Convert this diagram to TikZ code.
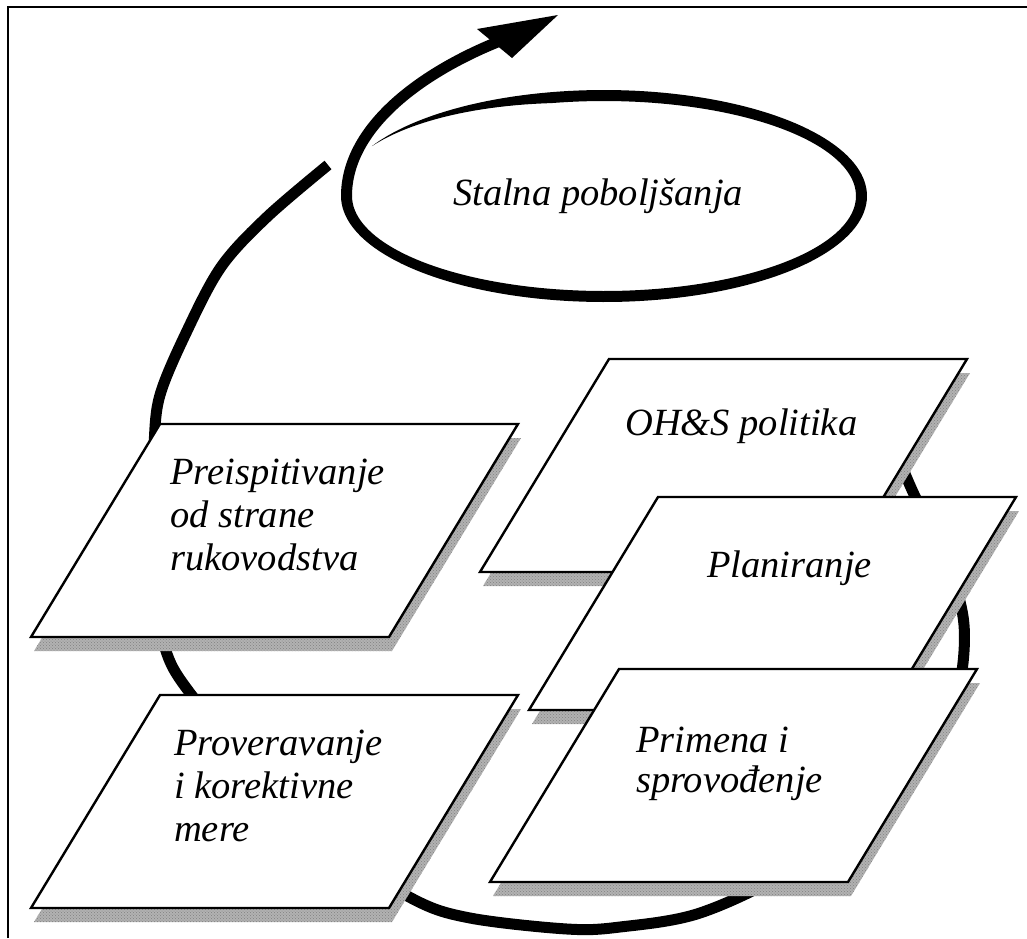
\documentclass[tikz,border=0pt]{standalone}
\usepackage{fontspec}
\setmainfont{Liberation Serif}
\usetikzlibrary{patterns}
\begin{document}
\begin{tikzpicture}[x=1pt,y=-1pt,
  frameline/.style={line width=1.6pt},
  loopline/.style={line width=11pt, line cap=butt},
  slabline/.style={line width=2.4pt, line join=miter, fill=white},
  slabshade/.style={fill=black!30},
  label/.style={font=\fontsize{38.5}{43}\selectfont\itshape, inner sep=0pt, align=left},
  slab/.pic={
    \fill[slabshade] (3,14) -- ++(358,0) -- ++(-129,213) -- ++(-358,0) -- cycle;
    \fill[pattern=crosshatch dots, pattern color=black!50] (3,14) -- ++(358,0) -- ++(-129,213) -- ++(-358,0) -- cycle;
    \draw[slabline] (0,0) -- ++(358,0) -- ++(-129,213) -- ++(-358,0) -- cycle;
  }]
\useasboundingbox (0,0) rectangle (1027,938);

% frame
\draw[frameline] (8,938) -- (8,7) -- (1027,7);

% improvement spiral: tapered elliptical loop turning into the upward arrow
\fill plot[variable=\t, domain=152:-180, samples=160]
  ({604+263*cos(\t)},{196-106*sin(\t)})
  -- plot[variable=\t, domain=-180:152, samples=160]
  ({604+(263-11*min(1,(152-\t)/50))*cos(\t)},{196-(106-11*min(1,(152-\t)/50))*sin(\t)})
  -- cycle;
\draw[line width=11pt] (346.5,196) .. controls (346.5,128) and (420,72) .. (505,39);
\fill (558,15) -- (477,29) -- (512,58) -- cycle;

% the cycle running behind the slabs
\draw[loopline] plot[smooth, tension=0.55] coordinates {
  (885,425) (912,490) (948,565) (964,625) (958,690) (930,745) (880,800)
  (790,870) (700,913) (620,927) (567,929) (470,918) (413,899) (330,845)
  (250,765) (190,693) (167,654) (157,600) (152,520) (154,445) (160,395)
  (186,333) (221,267) (267,217) (328,165)};

% slabs
\pic at (609,359) {slab};
\pic at (658,497) {slab};
\pic at (619,669) {slab};
\pic at (160,424) {slab};
\pic at (160,695) {slab};

% labels
\node[label, anchor=base] (title) at (598,205) {Stalna poboljšanja};
\node[label, anchor=base west] (policy) at (625,435) {OH\&S politika};
\node[label, anchor=base west] (plan) at (707,577) {Planiranje};
\node[label, anchor=base west, font=\fontsize{38.5}{40}\selectfont\itshape] (impl) at (636,792) {Primena i\\sprovođenje};
\node[label, anchor=base west] (review) at (170,570) {Preispitivanje\\od strane\\rukovodstva};
\node[label, anchor=base west] (check) at (174,841) {Proveravanje\\i korektivne\\mere};
\end{tikzpicture}
\end{document}
